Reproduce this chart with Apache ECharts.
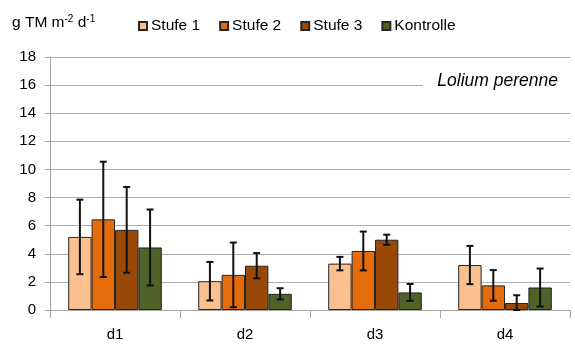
<!DOCTYPE html>
<html><head><meta charset="utf-8">
<script src="https://cdn.jsdelivr.net/npm/echarts@6/dist/echarts.min.js"></script>
<style>html,body{margin:0;padding:0;background:#fff}#c{width:575px;height:347px}</style>
</head><body><div id="c"></div>
<script>
const categories = ['d1', 'd2', 'd3', 'd4'];
const seriesNames = ['Stufe 1', 'Stufe 2', 'Stufe 3', 'Kontrolle'];
const stufe1 = [5.2, 2.05, 3.3, 3.2];
const stufe2 = [6.45, 2.5, 4.2, 1.75];
const stufe3 = [5.7, 3.15, 5.0, 0.5];
const kontrolle = [4.45, 1.15, 1.25, 1.6];
const err1 = [2.65, 1.37, 0.48, 1.36];
const err2 = [4.1, 2.3, 1.38, 1.09];
const err3 = [3.05, 0.9, 0.36, 0.55];
const err4 = [2.7, 0.4, 0.6, 1.35];
const yTicks = [0, 2, 4, 6, 8, 10, 12, 14, 16, 18];

const values = [stufe1, stufe2, stufe3, kontrolle];
const errors = [err1, err2, err3, err4];
const colors = ['#FAC090', '#E46C0A', '#984807', '#4F6228'];
const gapFrac = 0.28;

const chart = echarts.init(document.getElementById('c'), null, {renderer: 'canvas'});
const series = [];
values.forEach((vals, si) => {
  series.push({
    name: seriesNames[si], type: 'bar', data: vals,
    barGap: '0%', barCategoryGap: (gapFrac * 100) + '%',
    itemStyle: {color: colors[si], borderColor: '#262626', borderWidth: 1},
    emphasis: {disabled: true}, z: 2
  });
});
values.forEach((vals, si) => {
  series.push({
    type: 'custom', z: 5, silent: true,
    data: vals.map((v, i) => [i, v, errors[si][i]]),
    renderItem: function (params, api) {
      const ci = api.value(0), v = api.value(1), e = api.value(2);
      const band = api.size([1, 0])[0];
      const bw = band * (1 - gapFrac) / 4;
      const c = api.coord([ci, v]);
      const x = c[0] + (si - 1.5) * bw;
      const lo = Math.max(0, v - e);
      const yt = api.coord([ci, v + e])[1];
      const yb = api.coord([ci, lo])[1];
      const cap = 3.5;
      const st = {stroke: '#111', lineWidth: 2};
      return {type: 'group', children: [
        {type: 'line', shape: {x1: x, y1: yt, x2: x, y2: yb}, style: st},
        {type: 'line', shape: {x1: x - cap, y1: yt, x2: x + cap, y2: yt}, style: st},
        {type: 'line', shape: {x1: x - cap, y1: yb, x2: x + cap, y2: yb}, style: st}
      ]};
    }
  });
});

chart.setOption({
  animation: false,
  textStyle: {fontFamily: 'Liberation Sans, Arial, sans-serif'},
  grid: {left: 50, right: 5, top: 57, bottom: 37},
  legend: {
    data: seriesNames, left: 133, top: 13, icon: 'rect',
    itemWidth: 8, itemHeight: 8, itemGap: 19,
    textStyle: {fontSize: 15.5, color: '#000', padding: [0, 0, 0, -1]}
  },
  xAxis: {
    type: 'category', data: categories,
    axisLine: {lineStyle: {color: '#A6A6A6', width: 1}},
    axisTick: {show: true, length: 8, lineStyle: {color: '#A6A6A6'}},
    axisLabel: {fontSize: 15, color: '#000', margin: 17}
  },
  yAxis: {
    type: 'value', min: yTicks[0], max: yTicks[yTicks.length - 1], interval: 2,
    axisLine: {show: true, lineStyle: {color: '#A6A6A6'}},
    axisTick: {show: true, length: 5, lineStyle: {color: '#A6A6A6'}},
    axisLabel: {fontSize: 15, color: '#000', margin: 14},
    splitLine: {lineStyle: {color: '#ADADAD', width: 1}}
  },
  graphic: [
    {type: 'text', left: 12, top: 14, style: {
      text: '{n|g TM m}{s|-2}{n| d}{s|-1}',
      rich: {n: {fontSize: 15.5, fill: '#000', fontFamily: 'Liberation Sans'},
             s: {fontSize: 10, fill: '#000', verticalAlign: 'top', padding: [0, 0, 8, 0], fontFamily: 'Liberation Sans'}}
    }},
    {type: 'rect', shape: {x: 423, y: 72, width: 152, height: 22}, style: {fill: '#fff'}, z: 10},
    {type: 'text', right: 17, top: 72, z: 11, style: {
      text: 'Lolium perenne', fontSize: 17.5, fontStyle: 'italic', fill: '#000', fontFamily: 'Liberation Sans'
    }}
  ],
  series: series
});
</script></body></html>
